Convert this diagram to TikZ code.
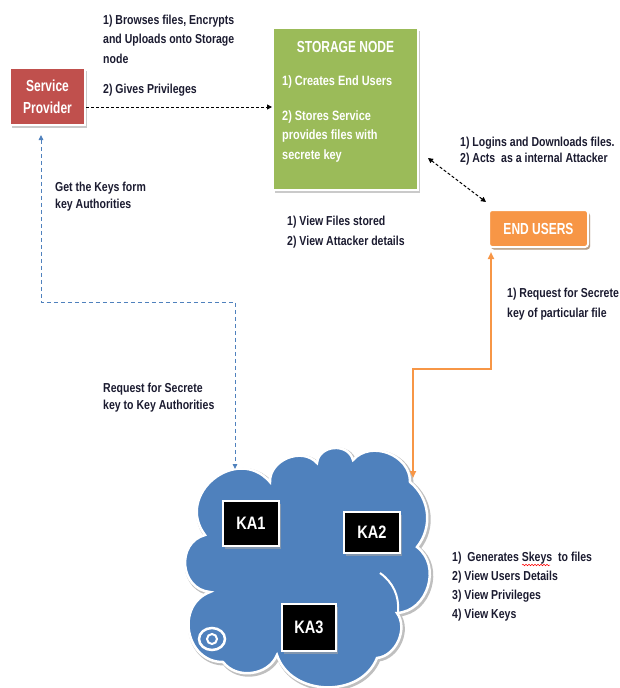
\documentclass[tikz,border=0pt]{standalone}
\usepackage{fontspec}
\setmainfont[FakeStretch=0.81]{Liberation Sans}
\newfontfamily\headfont[FakeStretch=0.75]{Liberation Sans}
\usetikzlibrary{arrows.meta,shadows,decorations.pathmorphing}

\definecolor{sprovider}{HTML}{C0504D}
\definecolor{snode}{HTML}{9BBB59}
\definecolor{euser}{HTML}{F79646}
\definecolor{kablue}{HTML}{4F81BD}
\definecolor{textcol}{HTML}{1B1B30}

\newcommand\kacloudpath{(205,-535) to[bend left=88,looseness=1.55] (270,-482)
  to[bend left=70,looseness=1.12] (317,-463) to[bend left=80,looseness=1.3] (353,-460)
  to[bend left=70,looseness=1.13] (410,-482) to[bend left=45] (417,-547)
  to[bend left=70,looseness=1.15] (397,-613) to[bend left=60] (377,-658)
  to[bend left=70,looseness=1.12] (277,-655) to[bend left=60,looseness=1.05] (223,-662)
  to[bend left=80,looseness=1.35] (210,-592) to[bend left=80,looseness=1.36] (205,-535) -- cycle}

\tikzset{
  box/.style={draw=white, line width=2pt, inner sep=0pt,
    drop shadow={shadow xshift=2pt, shadow yshift=-2.5pt, fill=black!35, opacity=0.6}},
  headtext/.style={text=white, font=\headfont\bfseries\fontsize{16}{22}\selectfont},
  note/.style={anchor=base west, align=left, inner sep=0pt, text=textcol,
    font=\bfseries\fontsize{13}{19.5}\selectfont},
  sntext/.style={note, text=white, font=\bfseries\fontsize{13.5}{19.5}\selectfont},
  kabox/.style={box, fill=black, text=white, font=\bfseries\fontsize{18}{20}\selectfont},
  flow/.style={densely dashed, line width=1pt, {Triangle[length=5pt,width=5pt]}-{Triangle[length=5pt,width=5pt]}},
  flowto/.style={densely dashed, line width=1pt, -{Triangle[length=5pt,width=5pt]}},
  keyreq/.style={kablue, dash pattern=on 4pt off 3pt, line width=0.9pt,
    {Triangle[length=5pt,width=4.5pt]}-{Triangle[length=5pt,width=4.5pt]}},
  filereq/.style={euser, line width=2.2pt, {Triangle[length=7pt,width=6pt]}-{Triangle[length=7pt,width=6pt]}},
  spell/.style={red, line width=0.5pt, decorate, decoration={snake, amplitude=0.8pt, segment length=3pt}}
}

\begin{document}
\begin{tikzpicture}[x=1pt, y=1pt]
  \useasboundingbox (0,0) rectangle (619,-688);

  % boxes
  \node[box, headtext, fill=sprovider, align=center, minimum width=75pt, minimum height=57pt] (sp) at (47.5,-96.5) {Service\\Provider};
  \node[box, fill=snode, minimum width=145pt, minimum height=162pt] (storage) at (345.5,-109) {};
  \node[headtext, anchor=base] (sntitle) at (345.5,-52) {STORAGE NODE};
  \node[sntext] (sntext1) at (282,-85) {1) Creates End Users};
  \node[sntext] (sntext2) at (282,-159) {2) Stores Service\\provides files with\\secrete key};
  \node[box, headtext, fill=euser, rounded corners=3pt, minimum width=99pt, minimum height=37pt,
    drop shadow={shadow xshift=2pt, shadow yshift=-2.5pt, fill=brown!70!gray, opacity=0.6}] (users) at (538.5,-228.5) {END USERS};

  % cloud of key authorities
  \draw[black!25, line width=4pt, shift={(1.5,-1.5)}] \kacloudpath;
  \filldraw[fill=kablue, draw=white, line width=2.5pt] \kacloudpath;
  \draw[white, line width=2pt] (380,-573) to[bend left=30,looseness=0.95] (398,-612);
  \draw[white, line width=2.5pt, fill=kablue] (212,-639) ellipse (13 and 11);
  \draw[white, line width=2pt] (212,-639) circle (5);
  \node[kabox, minimum width=56pt, minimum height=45pt] (ka1) at (251,-523.5) {KA1};
  \node[kabox, minimum width=56pt, minimum height=41pt] (ka2) at (372,-532.5) {KA2};
  \node[kabox, minimum width=54pt, minimum height=47pt] (ka3) at (309,-627.5) {KA3};

  % labels (anchored at the baseline of their last line)
  \node[note] (browse) at (103,-63) {1) Browses files, Encrypts\\and Uploads onto Storage\\node};
  \node[note] (gives) at (103,-93) {2) Gives Privileges};
  \node[note, font=\bfseries\fontsize{13}{17}\selectfont] (getkeys) at (55,-208) {Get the Keys form\\key Authorities};
  \node[note, font=\bfseries\fontsize{13}{17}\selectfont] (reqka) at (103,-409) {Request for Secrete\\key to Key Authorities};
  \node[note, font=\bfseries\fontsize{13}{16}\selectfont] (logins) at (460,-162) {1) Logins and Downloads files.\\2) Acts\ \ as a internal Attacker};
  \node[note, font=\bfseries\fontsize{13}{20}\selectfont] (viewfiles) at (287,-245) {1) View Files stored\\2) View Attacker details};
  \node[note] (reqfile) at (507,-317) {1) Request for Secrete\\key of particular file};
  \node[note, font=\bfseries\fontsize{13}{18.7}\selectfont] (kalist) at (452,-618) {1)\ \ Generates Skeys\ \ to files\\2) View Users Details\\3) View Privileges\\4) View Keys};
  \draw[spell] ([xshift=70pt,yshift=53pt]kalist.base west) -- ++(28pt,0);

  % connectors
  \coordinate (spout) at ([yshift=-10.5pt]sp.east);
  \draw[flowto] (spout) -- (spout -| storage.west);
  \draw[flow] ([xshift=9pt,yshift=-49pt]storage.east) -- ([xshift=-2pt,yshift=7pt]users.north west);
  \coordinate (spdown) at ([xshift=-6.5pt,yshift=-9pt]sp.south);
  \coordinate (keyturn) at (41,-302);
  \coordinate (kain) at (235,-469);
  \draw[keyreq] (spdown) -- (keyturn) -| (kain);
  \coordinate (euout) at ([xshift=3pt,yshift=-4pt]users.south west);
  \coordinate (kaout) at (413,-478);
  \draw[filereq] (euout) -- ++(0,-117) -| (kaout);
\end{tikzpicture}
\end{document}
